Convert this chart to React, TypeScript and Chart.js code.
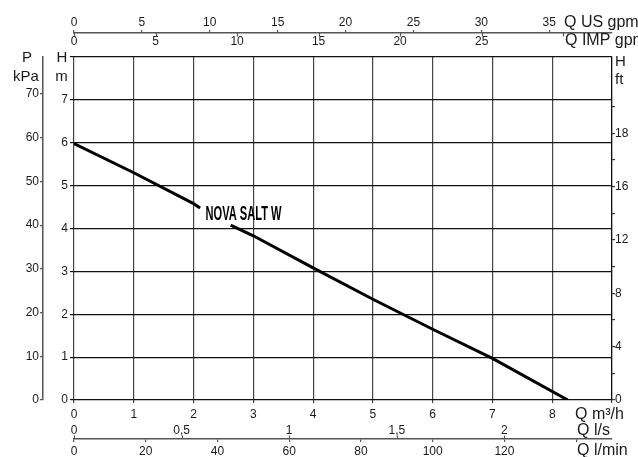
import React, { useEffect, useRef } from 'react';
import { Chart, registerables } from 'chart.js';

Chart.register(...registerables);

// ---- data ----
const flowM3h = [0, 1, 2, 2.11, 2.4, 2.62, 3, 4, 5, 6, 7, 8.26];
const headM: (number | null)[] = [5.98, 5.3, 4.58, 4.48, null, 4.08, 3.83, 3.08, 2.35, 1.65, 0.97, 0];
const curveLabel = 'NOVA SALT W';
const curveLabelAt = { x: 2.2, y: 4.2 };

const X_MAX = 9;
const Y_MAX = 8;
const xTickValues = [0, 1, 2, 3, 4, 5, 6, 7, 8, 9];
const xTickLabels = ['0', '1', '2', '3', '4', '5', '6', '7', '8', ''];
const yTickValues = [0, 1, 2, 3, 4, 5, 6, 7, 8];
const yTickLabels = ['0', '1', '2', '3', '4', '5', '6', '7', ''];
const kpaTickValues = [0, 10, 20, 30, 40, 50, 60, 70];
const kpaTickLabels = ['0', '10', '20', '30', '40', '50', '60', '70'];
const ftTickValues = [0, 2, 4, 6, 8, 10, 12, 14, 16, 18, 20, 22];
const ftTickLabels = ['0', '', '4', '', '8', '', '12', '', '16', '', '18', ''];
const usTickValues = [0, 5, 10, 15, 20, 25, 30, 35];
const usTickLabels = ['0', '5', '10', '15', '20', '25', '30', '35'];
const impTickValues = [0, 5, 10, 15, 20, 25, 30];
const impTickLabels = ['0', '5', '10', '15', '20', '25', ''];
const lsTickValues = [0, 0.5, 1, 1.5, 2];
const lsTickLabels = ['0', '0,5', '1', '1,5', '2'];
const lminTickValues = [0, 20, 40, 60, 80, 100, 120, 140];
const lminTickLabels = ['0', '20', '40', '60', '80', '100', '120', ''];

const US_PER_M3H = 4.4029;
const IMP_PER_M3H = 3.6662;
const LS_PER_M3H = 1 / 3.6;
const LMIN_PER_M3H = 1000 / 60;
const KPA_PER_M = 9.80665;
const FT_AXIS_PER_M = 3.216; // ft scale as printed on the reference sheet

const FONT = '"Liberation Sans", Arial, Helvetica, sans-serif';
const TEXT = '#1a1a1a';
const AXIS_GRAY = '#555';

const setTicks = (values: number[]) => (s: any) => {
  s.ticks = values.map((v) => ({ value: v }));
};
const labelFrom = (labels: string[]) => (_v: any, i: number) => labels[i] ?? '';

const decorPlugin = {
  id: 'decor',
  afterDraw(chart: any) {
    const ctx = chart.ctx as CanvasRenderingContext2D;
    const { x, y, imp, ls, us, lmin } = chart.scales;
    const area = chart.chartArea;
    ctx.save();
    // downward ticks of IMP gpm scale, upward ticks of l/s scale
    ctx.strokeStyle = AXIS_GRAY;
    ctx.lineWidth = 1.2;
    impTickValues.forEach((v) => {
      const px = Math.round(imp.getPixelForValue(v)) + 0.5;
      ctx.beginPath();
      ctx.moveTo(px, us.bottom);
      ctx.lineTo(px, us.bottom + 3.5);
      ctx.stroke();
    });
    lsTickValues.forEach((v) => {
      const px = Math.round(ls.getPixelForValue(v)) + 0.5;
      ctx.beginPath();
      ctx.moveTo(px, lmin.top);
      ctx.lineTo(px, lmin.top - 3.5);
      ctx.stroke();
    });

    // unit labels
    ctx.fillStyle = TEXT;
    ctx.font = `16px ${FONT}`;
    ctx.textBaseline = 'alphabetic';
    ctx.textAlign = 'left';
    ctx.fillText('Q US gpm', area.right - 48, 26.5);
    ctx.fillText('Q IMP gpm', area.right - 47, 44.5);
    ctx.fillText('Q m\u00B3/h', area.right - 37, 419);
    ctx.fillText('Q l/s', area.right - 35, 434.5);
    ctx.fillText('Q l/min', area.right - 35, 454.5);
    ctx.font = `15px ${FONT}`;
    ctx.fillText('H', area.right + 3, 66);
    ctx.fillText('ft', area.right + 3, 84);
    ctx.textAlign = 'center';
    ctx.fillText('H', area.left - 12, 62);
    ctx.fillText('m', area.left - 12.5, 81);
    ctx.fillText('P', 27, 61.7);
    ctx.fillText('kPa', 26, 81);

    // curve label (condensed bold)
    ctx.fillStyle = '#000';
    ctx.font = `bold 19.5px "Liberation Sans Narrow", ${FONT}`;
    ctx.textAlign = 'left';
    const w = ctx.measureText(curveLabel).width;
    const lx = x.getPixelForValue(curveLabelAt.x);
    const ly = y.getPixelForValue(curveLabelAt.y);
    ctx.translate(lx, ly);
    ctx.scale(76 / w, 1);
    ctx.fillText(curveLabel, 0, 0);
    ctx.restore();
  },
};

export default function App() {
  const ref = useRef<HTMLCanvasElement | null>(null);

  useEffect(() => {
    document.body.style.margin = '0';
    const canvas = ref.current;
    if (!canvas) return;
    const hFont = { family: FONT, size: 12 };
    const vFont = { family: FONT, size: 12 };
    const chart = new Chart(canvas, {
      type: 'line',
      data: {
        datasets: [
          {
            data: flowM3h.map((q, i) => ({ x: q, y: headM[i] as any })),
            borderColor: '#000',
            borderWidth: 3,
            pointRadius: 0,
            fill: false,
            spanGaps: false,
            tension: 0,
            xAxisID: 'x',
            yAxisID: 'y',
          },
        ],
      },
      options: {
        animation: false,
        responsive: false,
        devicePixelRatio: window.devicePixelRatio || 1,
        layout: { padding: 0 },
        plugins: { legend: { display: false }, tooltip: { enabled: false }, title: { display: false } },
        scales: {
          x: {
            type: 'linear',
            position: 'bottom',
            min: 0,
            max: X_MAX,
            weight: 0,
            afterBuildTicks: setTicks(xTickValues),
            afterFit: (s: any) => { s.height = 20; },
            ticks: { autoSkip: false, maxRotation: 0, padding: 4, color: TEXT, font: hFont, callback: labelFrom(xTickLabels) },
            grid: { color: '#444', lineWidth: 1.2, tickLength: 3 },
            border: { display: false },
          },
          ls: {
            type: 'linear',
            position: 'bottom',
            min: 0,
            max: X_MAX * LS_PER_M3H,
            weight: 1,
            afterBuildTicks: setTicks(lsTickValues),
            afterFit: (s: any) => { s.height = 19; },
            ticks: { autoSkip: false, maxRotation: 0, padding: 3, color: TEXT, font: hFont, callback: labelFrom(lsTickLabels) },
            grid: { display: false, drawTicks: false },
            border: { display: false },
          },
          lmin: {
            type: 'linear',
            position: 'bottom',
            min: 0,
            max: X_MAX * LMIN_PER_M3H,
            weight: 2,
            afterBuildTicks: setTicks(lminTickValues),
            afterFit: (s: any) => { s.height = 18; },
            ticks: { autoSkip: false, maxRotation: 0, padding: 2.5, color: TEXT, font: hFont, callback: labelFrom(lminTickLabels) },
            grid: { drawOnChartArea: false, color: AXIS_GRAY, lineWidth: 1.2, tickLength: 3 },
            border: { display: true, color: AXIS_GRAY, width: 1.5 },
          },
          imp: {
            type: 'linear',
            position: 'top',
            min: 0,
            max: X_MAX * IMP_PER_M3H,
            weight: 0,
            afterBuildTicks: setTicks(impTickValues),
            afterFit: (s: any) => { s.height = 24; },
            ticks: { autoSkip: false, maxRotation: 0, padding: 8, color: TEXT, font: hFont, callback: labelFrom(impTickLabels) },
            grid: { display: false, drawTicks: false },
            border: { display: false },
          },
          us: {
            type: 'linear',
            position: 'top',
            min: 0,
            max: X_MAX * US_PER_M3H,
            weight: 1,
            afterBuildTicks: setTicks(usTickValues),
            afterFit: (s: any) => { s.height = 33; },
            ticks: { autoSkip: false, maxRotation: 0, padding: 0, color: TEXT, font: hFont, callback: labelFrom(usTickLabels) },
            grid: { drawOnChartArea: false, color: AXIS_GRAY, lineWidth: 1.2, tickLength: 3 },
            border: { display: true, color: AXIS_GRAY, width: 1.5 },
          },
          y: {
            type: 'linear',
            position: 'left',
            min: 0,
            max: Y_MAX,
            weight: 0,
            afterBuildTicks: setTicks(yTickValues),
            afterFit: (s: any) => { s.width = 31; },
            ticks: { autoSkip: false, padding: 2, color: TEXT, font: vFont, callback: labelFrom(yTickLabels) },
            grid: { color: '#111', lineWidth: 1.2, tickLength: 4 },
            border: { display: false },
          },
          kpa: {
            type: 'linear',
            position: 'left',
            min: 0,
            max: Y_MAX * KPA_PER_M,
            weight: 1,
            afterBuildTicks: setTicks(kpaTickValues),
            afterFit: (s: any) => { s.width = 43; },
            ticks: { autoSkip: false, padding: 1, color: TEXT, font: vFont, callback: labelFrom(kpaTickLabels) },
            grid: { drawOnChartArea: false, color: AXIS_GRAY, lineWidth: 1.2, tickLength: 3 },
            border: { display: true, color: AXIS_GRAY, width: 1.5 },
          },
          ft: {
            type: 'linear',
            position: 'right',
            min: 0,
            max: Y_MAX * FT_AXIS_PER_M,
            weight: 0,
            afterBuildTicks: setTicks(ftTickValues),
            afterFit: (s: any) => { s.width = 26; },
            ticks: { autoSkip: false, padding: 0, color: TEXT, font: vFont, callback: labelFrom(ftTickLabels) },
            grid: { drawOnChartArea: false, color: '#333', lineWidth: 1.2, tickLength: 3 },
            border: { display: true, color: '#111', width: 1.2 },
          },
        },
      } as any,
      plugins: [decorPlugin],
    });
    return () => chart.destroy();
  }, []);

  return (
    <div style={{ width: 638, height: 457, background: '#fff' }}>
      <canvas ref={ref} width={638} height={457} style={{ display: 'block', width: 638, height: 457 }} />
    </div>
  );
}
